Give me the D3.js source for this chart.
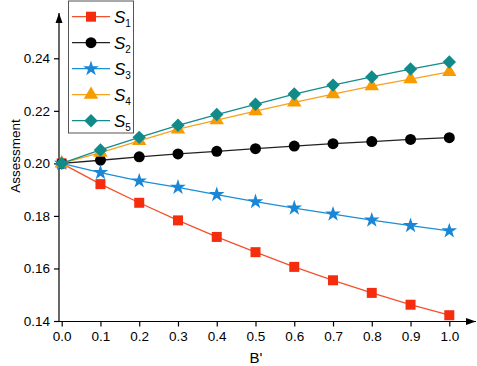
<!DOCTYPE html>
<html>
<head>
<meta charset="utf-8">
<script src="https://cdn.jsdelivr.net/npm/d3@7"></script>
<style>
  body { margin: 0; background: #fff; }
  svg { display: block; font-family: "Liberation Sans", Arial, sans-serif; }
</style>
</head>
<body>
<svg width="477" height="366"></svg>
<script>
const xValues = [0, 0.1, 0.2, 0.3, 0.4, 0.5, 0.6, 0.7, 0.8, 0.9, 1.0];
const s1 = [0.2, 0.1921, 0.185, 0.1783, 0.172, 0.1662, 0.1606, 0.1555, 0.1507, 0.1462, 0.1422];
const s2 = [0.2, 0.2012, 0.2025, 0.2036, 0.2046, 0.2056, 0.2066, 0.2075, 0.2083, 0.2091, 0.2098];
const s3 = [0.2, 0.1965, 0.1933, 0.1909, 0.1881, 0.1854, 0.183, 0.1807, 0.1784, 0.1763, 0.1743];
const s4 = [0.2, 0.2041, 0.2086, 0.213, 0.2165, 0.2199, 0.2232, 0.2264, 0.2294, 0.2321, 0.2348];
const s5 = [0.2, 0.2051, 0.2099, 0.2145, 0.2186, 0.2225, 0.2264, 0.2298, 0.2329, 0.2359, 0.2386];
const seriesNames = ["1", "2", "3", "4", "5"];
const xTicks = [0, 0.1, 0.2, 0.3, 0.4, 0.5, 0.6, 0.7, 0.8, 0.9, 1.0];
const yTicks = [0.14, 0.16, 0.18, 0.20, 0.22, 0.24];

// wide diamond (square turned 45 degrees)
const wideDiamond = {
  draw(ctx, size) {
    const r = Math.sqrt(size / 2);
    ctx.moveTo(0, -r); ctx.lineTo(r, 0); ctx.lineTo(0, r); ctx.lineTo(-r, 0); ctx.closePath();
  }
};

const series = [
  { name: seriesNames[0], values: s1, color: "#f5502d", fill: "#f52c0e", shape: d3.symbolSquare, size: 100 },
  { name: seriesNames[1], values: s2, color: "#222", fill: "#000", shape: d3.symbolCircle, size: 95 },
  { name: seriesNames[2], values: s3, color: "#1a8fd6", fill: "#1a86d6", shape: d3.symbolStar, size: 75 },
  { name: seriesNames[3], values: s4, color: "#f7a21b", fill: "#f89b00", shape: d3.symbolTriangle, size: 90 },
  { name: seriesNames[4], values: s5, color: "#128c8c", fill: "#118a8a", shape: wideDiamond, size: 90 }
];

const svg = d3.select("svg");
const axisX = 59, axisY = 321.5;

const x = d3.scaleLinear().domain([0, 1]).range([61.7, 449.3]);
const y = d3.scaleLinear().domain([0.14, 0.24]).range([321, 58.3]);

// axis lines with arrows
svg.append("defs").append("marker")
  .attr("id", "arrow").attr("viewBox", "0 0 10 10")
  .attr("refX", 10).attr("refY", 5)
  .attr("markerWidth", 10).attr("markerHeight", 10)
  .attr("markerUnits", "userSpaceOnUse")
  .attr("orient", "auto")
  .append("path").attr("d", "M0,1.5 L10,5 L0,8.5 Z").attr("fill", "#000");

svg.append("line").attr("x1", axisX).attr("y1", axisY).attr("x2", axisX).attr("y2", 13)
  .attr("stroke", "#000").attr("stroke-width", 1.2).attr("marker-end", "url(#arrow)");
svg.append("line").attr("x1", axisX).attr("y1", axisY).attr("x2", 476).attr("y2", axisY)
  .attr("stroke", "#000").attr("stroke-width", 1.2).attr("marker-end", "url(#arrow)");

// ticks
const xAxis = d3.axisBottom(x).tickValues(xTicks).tickFormat(d3.format(".1f")).tickSize(5).tickPadding(5);
const gx = svg.append("g").attr("transform", `translate(0,${axisY})`).call(xAxis);
gx.select(".domain").remove();

const yAxis = d3.axisLeft(y).tickValues(yTicks).tickFormat(d3.format(".2f")).tickSize(5).tickPadding(4);
const gy = svg.append("g").attr("transform", `translate(${axisX},0)`).call(yAxis);
gy.select(".domain").remove();

svg.selectAll(".tick text").attr("font-size", 13.5).attr("fill", "#000")
  .style("font-family", "'Liberation Sans', Arial, sans-serif");
svg.selectAll(".tick line").attr("stroke", "#000").attr("stroke-width", 1.2);

// axis titles
svg.append("text").attr("x", 256).attr("y", 363).attr("text-anchor", "middle")
  .attr("font-size", 15).text("B'");
svg.append("text").attr("transform", "translate(20,156) rotate(-90)")
  .attr("text-anchor", "middle").attr("font-size", 13.5).text("Assessment");

// lines and markers
const line = d3.line().x((d, i) => x(xValues[i])).y(d => y(d));
series.forEach(s => {
  svg.append("path").attr("d", line(s.values)).attr("fill", "none")
    .attr("stroke", s.color).attr("stroke-width", 1.3);
  svg.selectAll(null).data(s.values).join("path")
    .attr("transform", (d, i) => `translate(${x(xValues[i])},${y(d)})`)
    .attr("d", d3.symbol(s.shape, s.size))
    .attr("fill", s.fill);
});

// legend
const lg = svg.append("g");
lg.append("rect").attr("x", 68.5).attr("y", 1).attr("width", 65).attr("height", 132)
  .attr("fill", "#fff").attr("stroke", "#555").attr("stroke-width", 1);
series.forEach((s, i) => {
  const ly = 16.7 + i * 26;
  lg.append("line").attr("x1", 72).attr("x2", 110).attr("y1", ly).attr("y2", ly)
    .attr("stroke", s.color).attr("stroke-width", 1.3);
  lg.append("path").attr("transform", `translate(91,${ly})`)
    .attr("d", d3.symbol(s.shape, s.size)).attr("fill", s.fill);
  const t = lg.append("text").attr("x", 114).attr("y", ly + 6).attr("font-size", 17);
  t.append("tspan").attr("font-style", "italic").text("S");
  t.append("tspan").attr("font-size", 10).attr("dy", 4).text(s.name);
});
</script>
</body>
</html>
